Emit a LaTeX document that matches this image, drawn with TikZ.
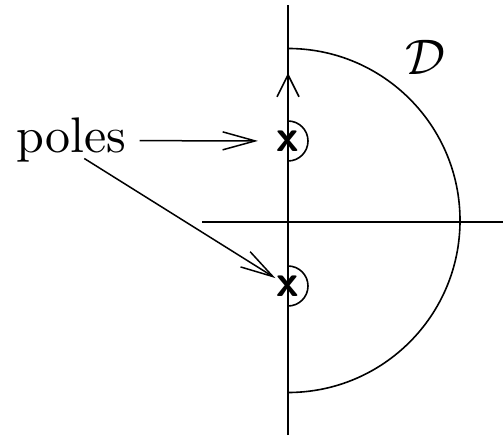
\documentclass[tikz,border=0pt]{standalone}
\usepackage{amsmath}
\usetikzlibrary{arrows.meta}
\begin{document}
\begin{tikzpicture}[
  x=0.2pt, y=0.2pt, line width=0.32pt,
  pole/.style={font=\small\sffamily\bfseries, inner sep=3.6pt},
  arrow/.style={-{Straight Barb[length=6.5pt,width=3.6pt]}, line width=0.3pt}
]
\useasboundingbox (-288,-216) rectangle (215,222);
% axes
\draw (-86,0) -- (215,0);
\draw (0,-213) -- (0,217);
\draw[-{Straight Barb[length=4.4pt,width=4.4pt]}] (0,120) -- (0,149);
% contour
\draw (0,173.5) arc[start angle=90, end angle=-90, radius=172];
\draw (0,101) arc[start angle=90, end angle=-90, radius=20];
\draw (0,-44) arc[start angle=90, end angle=-90, radius=20];
% poles
\node[pole] (p1) at (0,81) {x};
\node[pole] (p2) at (0,-64) {x};
\node[anchor=base west, inner sep=2.5pt] (poles) at (-285,69) {poles};
\node[anchor=base] (dom) at (137,147) {$\mathcal{D}$};

\draw[arrow] (poles) -- (p1);
\draw[arrow, shorten >=3pt] ([xshift=2.6pt,yshift=3.5pt]poles.south) -- (p2.center);
\end{tikzpicture}
\end{document}
